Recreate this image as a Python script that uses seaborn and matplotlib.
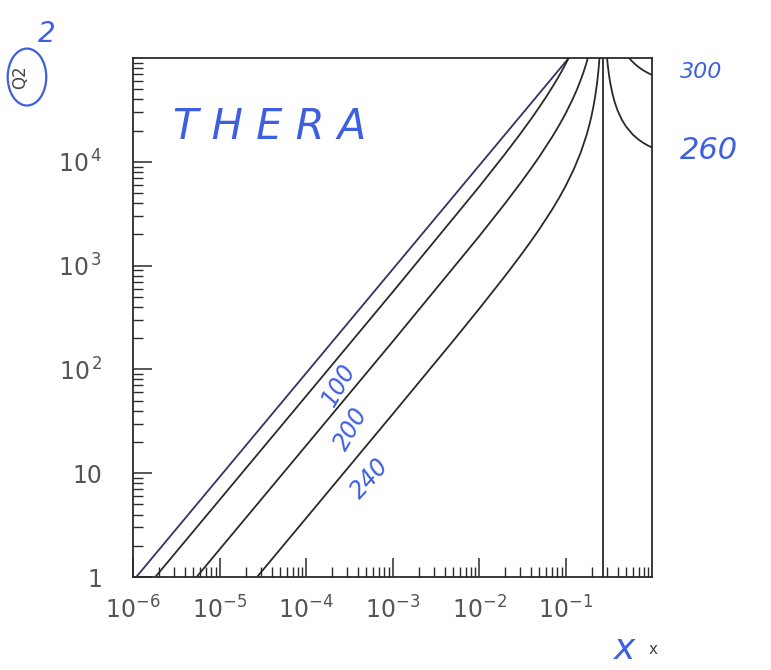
import matplotlib
matplotlib.use('Agg')
import matplotlib.pyplot as plt
import seaborn as sns
from matplotlib.patches import Ellipse

# iso-energy lines of the scattered electron (THERA kinematics)
ylim_x = [1.09e-6, 0.109]
ylim_q2 = [1.0, 1.0e5]

e100_x = [1.81e-6, 1e-4, 1e-3, 1e-2, 0.02, 0.03, 0.04, 0.05, 0.06, 0.07, 0.08,
          0.09, 0.1, 0.1087]
e100_q2 = [1.0, 55.2, 554, 5731, 11917, 18615, 25891, 33824, 42505, 52047, 62585,
           74282, 87342, 1.0e5]

e200_x = [5.435e-6, 1e-4, 1e-3, 1e-2, 0.02, 0.03, 0.04, 0.05, 0.07, 0.085, 0.1,
          0.12, 0.135, 0.15, 0.16, 0.17, 0.175, 0.1812]
e200_q2 = [1.0, 18.41, 184.7, 1910, 3972, 6205, 8630, 11275, 17349, 22759, 29114,
           39542, 49364, 61607, 71595, 83547, 90449, 1.0e5]

e240_x = [2.717e-5, 1e-4, 1e-3, 5e-3, 1e-2, 0.02, 0.03, 0.04, 0.05, 0.07, 0.085,
          0.1, 0.125, 0.15, 0.175, 0.19, 0.2, 0.21, 0.22, 0.23, 0.235, 0.24,
          0.243, 0.247]
e240_q2 = [1.0, 3.68, 36.94, 187.4, 382.1, 794.5, 1241, 1726, 2255, 3470, 4552,
           5823, 8519, 12321, 18090, 23245, 27879, 34014, 42521, 55104, 63964,
           75616, 84554, 1.0e5]

e250_x = [0.2717, 0.2717]
e250_q2 = [1.0, 1.0e5]

e260_x = [0.3019, 0.305, 0.31, 0.32, 0.33, 0.35, 0.37, 0.4, 0.45, 0.5, 0.6, 0.7,
          0.8, 0.9, 1.0]
e260_q2 = [1.0e5, 91699, 81023, 66306, 56642, 44722, 37655, 31186, 25244, 21905,
           18278, 16345, 15144, 14325, 13731]

e300_x = [0.5435, 0.56, 0.6, 0.65, 0.7, 0.75, 0.8, 0.9, 1.0]
e300_q2 = [1.0e5, 97134, 91391, 85920, 81726, 78409, 75720, 71626, 68657]

x_ticks = [1e-6, 1e-5, 1e-4, 1e-3, 1e-2, 1e-1]
x_ticklabels = ['$10^{-6}$', '$10^{-5}$', '$10^{-4}$', '$10^{-3}$', '$10^{-2}$', '$10^{-1}$']
y_ticks = [1, 10, 100, 1000, 10000]
y_ticklabels = ['1', '10', '$10^{\\,2}$', '$10^{\\,3}$', '$10^{\\,4}$']

sns.set_style('ticks')
plt.rcParams['font.family'] = ['DejaVu Sans']
plt.rcParams['mathtext.default'] = 'regular'

fig = plt.figure(figsize=(7.71, 6.70), dpi=100)
ax = fig.add_axes([0.1725, 0.1388, 0.6732, 0.7746])

ink = '#2a2a2a'
curves = [
    (ylim_x, ylim_q2, '#3b2f66'),
    (e100_x, e100_q2, ink),
    (e200_x, e200_q2, ink),
    (e240_x, e240_q2, ink),
    (e250_x, e250_q2, ink),
    (e260_x, e260_q2, ink),
    (e300_x, e300_q2, ink),
]
for xs, qs, col in curves:
    sns.lineplot(x=xs, y=qs, ax=ax, color=col, linewidth=1.3,
                 sort=False, estimator=None)

ax.set_xscale('log')
ax.set_yscale('log')
ax.set_xlim(1e-6, 1.0)
ax.set_ylim(1.0, 1.0e5)

ax.set_xticks(x_ticks)
ax.set_xticklabels(x_ticklabels)
ax.set_yticks(y_ticks)
ax.set_yticklabels(y_ticklabels)
ax.tick_params(which='major', direction='in', length=14, width=1.1,
               labelsize=17, labelcolor='#555555', color=ink,
               top=False, right=False)
ax.tick_params(which='minor', direction='in', length=7, width=1.0,
               color=ink, top=False, right=False)
ax.tick_params(axis='x', which='major', pad=14)
ax.tick_params(axis='y', which='major', pad=22)
for sp in ax.spines.values():
    sp.set_visible(True)
    sp.set_linewidth(1.3)
    sp.set_color(ink)

# printed axis titles
fig.text(0.026, 0.885, 'Q2', rotation=90, fontsize=12, color='#444444',
         ha='center', va='center')
fig.text(0.847, 0.03, 'x', fontsize=11, color='#444444', ha='center', va='center')

# handwritten notes in blue
blue = '#3d5fe0'
hand = dict(color=blue, style='italic', family='DejaVu Sans')
fig.text(0.225, 0.81, 'T H E R A', fontsize=30, ha='left', va='center', **hand)
fig.text(0.44, 0.425, '100', fontsize=17, rotation=60, ha='center', va='center', **hand)
fig.text(0.455, 0.36, '200', fontsize=17, rotation=60, ha='center', va='center', **hand)
fig.text(0.48, 0.285, '240', fontsize=17, rotation=48, ha='center', va='center', **hand)
fig.text(0.91, 0.892, '300', fontsize=16, ha='center', va='center', **hand)
fig.text(0.92, 0.775, '260', fontsize=22, ha='center', va='center', **hand)
fig.text(0.81, 0.032, 'x', fontsize=26, ha='center', va='center', **hand)
fig.text(0.06, 0.95, '2', fontsize=20, ha='center', va='center', **hand)
fig.add_artist(Ellipse((0.035, 0.885), 0.05, 0.085, transform=fig.transFigure,
                       fill=False, edgecolor=blue, linewidth=1.6))

fig.savefig('out.png', dpi=100, facecolor='white')
